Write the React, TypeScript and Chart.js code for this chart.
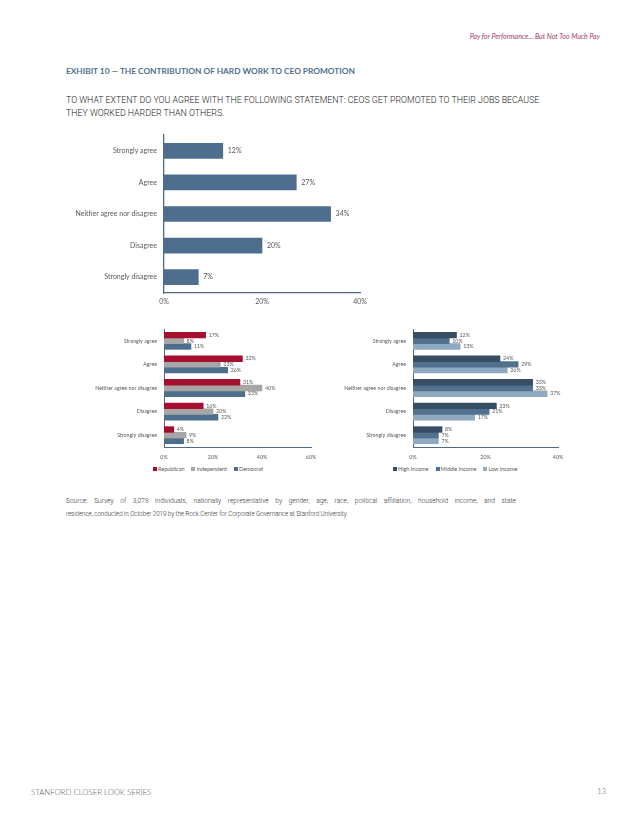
import React, { useEffect, useRef } from "react";
import { Chart, registerables } from "chart.js";

Chart.register(...registerables);

const categories = [
  "Strongly agree",
  "Agree",
  "Neither agree nor disagree",
  "Disagree",
  "Strongly disagree",
];
const overallValues = [12, 27, 34, 20, 7];

const partyLabels = ["Republican", "Independent", "Democrat"];
const republicanValues = [17, 32, 31, 16, 4];
const independentValues = [8, 23, 40, 20, 9];
const democratValues = [11, 26, 33, 22, 8];

const incomeLabels = ["High Income", "Middle Income", "Low Income"];
const highIncomeValues = [12, 24, 33, 23, 8];
const middleIncomeValues = [10, 29, 33, 21, 7];
const lowIncomeValues = [13, 26, 37, 17, 7];

const overallTickMax = 40;
const partyTickMax = 60;
const incomeTickMax = 40;
const tickStep = 20;

const FONT = "Lato, 'Open Sans', sans-serif";
const BODY_FONT = "Roboto, 'Noto Sans', sans-serif";
const AXIS_COLOR = "#4E6A86";
const TEXT_COLOR = "#595959";
const MAIN_BLUE = "#4E6E8E";
const partyColors = ["#A50E2D", "#A6A6A6", "#4E6E8E"];
const incomeColors = ["#374D64", "#52718F", "#8FA9C1"];

const valueLabelPlugin = {
  id: "valueLabels",
  afterDatasetsDraw(chart: any, _args: any, opts: any) {
    const ctx = chart.ctx;
    ctx.save();
    ctx.font = `${opts.size}px ${FONT}`;
    ctx.fillStyle = opts.color;
    ctx.textBaseline = "middle";
    ctx.textAlign = "left";
    chart.data.datasets.forEach((ds: any, i: number) => {
      const meta = chart.getDatasetMeta(i);
      meta.data.forEach((el: any, j: number) => {
        ctx.fillText(ds.data[j] + "%", el.x + opts.offset, el.y);
      });
    });
    ctx.restore();
  },
};

type BarProps = {
  left: number;
  top: number;
  width: number;
  height: number;
  yWidth: number;
  xHeight: number;
  padTop: number;
  padRight: number;
  max: number;
  datasets: { label: string; data: number[]; color: string }[];
  barThickness: number;
  tickSize: number;
  catSize: number;
  labelSize: number;
  labelOffset: number;
  xPad: number;
  yPad: number;
  borderWidth: number;
};

function HBar(p: BarProps) {
  const ref = useRef<HTMLCanvasElement | null>(null);
  useEffect(() => {
    if (!ref.current) return;
    const chart = new Chart(ref.current, {
      type: "bar",
      data: {
        labels: categories,
        datasets: p.datasets.map((d) => ({
          label: d.label,
          data: d.data,
          backgroundColor: d.color,
          borderWidth: 0,
          barThickness: p.barThickness,
        })),
      },
      options: {
        indexAxis: "y",
        animation: false,
        responsive: true,
        maintainAspectRatio: false,
        layout: { padding: { top: p.padTop, right: p.padRight, left: 0, bottom: 0 } },
        plugins: {
          legend: { display: false },
          tooltip: { enabled: false },
          valueLabels: { size: p.labelSize, color: TEXT_COLOR, offset: p.labelOffset },
        } as any,
        scales: {
          x: {
            min: 0,
            max: p.max,
            grid: { display: false, drawTicks: false },
            border: { display: true, color: AXIS_COLOR, width: p.borderWidth },
            ticks: {
              stepSize: tickStep,
              padding: p.xPad,
              color: TEXT_COLOR,
              font: { family: FONT, size: p.tickSize },
              callback: (v: any) => v + "%",
            },
            afterFit: (scale: any) => {
              scale.height = p.xHeight;
              scale.paddingLeft = 0;
              scale.paddingRight = 0;
            },
          },
          y: {
            grid: { display: false, drawTicks: false },
            border: { display: true, color: AXIS_COLOR, width: p.borderWidth },
            ticks: {
              padding: p.yPad,
              color: TEXT_COLOR,
              font: { family: FONT, size: p.catSize },
            },
            afterFit: (scale: any) => {
              scale.width = p.yWidth;
              scale.paddingTop = 0;
              scale.paddingBottom = 0;
            },
          },
        },
      },
      plugins: [valueLabelPlugin],
    });
    return () => chart.destroy();
  }, []);
  return (
    <div
      style={{
        position: "absolute",
        left: p.left,
        top: p.top,
        width: p.width,
        height: p.height,
      }}
    >
      <canvas ref={ref} />
    </div>
  );
}

function Legend({ left, top, labels, colors }: { left: number; top: number; labels: string[]; colors: string[] }) {
  return (
    <div
      style={{
        position: "absolute",
        left,
        top,
        display: "flex",
        alignItems: "center",
        fontFamily: FONT,
        fontSize: 5.5,
        color: TEXT_COLOR,
        lineHeight: "8px",
        whiteSpace: "nowrap",
      }}
    >
      {labels.map((l, i) => (
        <div key={l} style={{ display: "flex", alignItems: "center", marginRight: 7 }}>
          <span style={{ display: "inline-block", width: 4, height: 4, background: colors[i], marginRight: 1 }} />
          <span>{l}</span>
        </div>
      ))}
    </div>
  );
}

export default function App() {
  const abs = (x: number, y: number, extra: React.CSSProperties = {}): React.CSSProperties => ({
    position: "absolute",
    left: x,
    top: y,
    whiteSpace: "nowrap",
    fontFamily: FONT,
    ...extra,
  });
  return (
    <div style={{ position: "absolute", left: 0, top: 0, width: 638, height: 826, background: "#fff", overflow: "hidden" }}>
      <div
        style={{
          position: "absolute",
          right: 38,
          top: 31,
          fontFamily: FONT,
          fontStyle: "italic",
          fontSize: 7,
          lineHeight: "10px",
          color: "#A0405F",
          whiteSpace: "nowrap",
        }}
      >
        Pay for Performance... But Not Too Much Pay
      </div>
      <div style={abs(66, 66, { fontSize: 8.3, fontWeight: 700, color: "#4E6E8E", lineHeight: "10px" })}>
        EXHIBIT 10 — THE CONTRIBUTION OF HARD WORK TO CEO PROMOTION
      </div>
      <div style={abs(66, 94, { fontFamily: BODY_FONT, fontSize: 8.8, fontWeight: 300, color: "#222", lineHeight: "13px" })}>
        TO WHAT EXTENT DO YOU AGREE WITH THE FOLLOWING STATEMENT: CEOS GET PROMOTED TO THEIR JOBS BECAUSE
        <br />
        THEY WORKED HARDER THAN OTHERS.
      </div>

      <HBar
        left={40}
        top={130}
        width={345}
        height={185}
        yWidth={124}
        xHeight={22}
        padTop={5}
        padRight={25}
        max={overallTickMax}
        datasets={[{ label: "All", data: overallValues, color: MAIN_BLUE }]}
        barThickness={15}
        tickSize={7}
        catSize={7}
        labelSize={7}
        labelOffset={5}
        xPad={5}
        yPad={7}
        borderWidth={1.3}
      />

      <HBar
        left={90}
        top={325}
        width={240}
        height={140}
        yWidth={74}
        xHeight={18}
        padTop={4}
        padRight={19}
        max={partyTickMax}
        datasets={[
          { label: partyLabels[0], data: republicanValues, color: partyColors[0] },
          { label: partyLabels[1], data: independentValues, color: partyColors[1] },
          { label: partyLabels[2], data: democratValues, color: partyColors[2] },
        ]}
        barThickness={5.7}
        tickSize={5.3}
        catSize={5.3}
        labelSize={5.3}
        labelOffset={3}
        xPad={7}
        yPad={7}
        borderWidth={1}
      />
      <Legend left={153} top={465} labels={partyLabels} colors={partyColors} />

      <HBar
        left={340}
        top={325}
        width={240}
        height={140}
        yWidth={73}
        xHeight={18}
        padTop={4}
        padRight={22}
        max={incomeTickMax}
        datasets={[
          { label: incomeLabels[0], data: highIncomeValues, color: incomeColors[0] },
          { label: incomeLabels[1], data: middleIncomeValues, color: incomeColors[1] },
          { label: incomeLabels[2], data: lowIncomeValues, color: incomeColors[2] },
        ]}
        barThickness={5.7}
        tickSize={5.3}
        catSize={5.3}
        labelSize={5.3}
        labelOffset={3}
        xPad={7}
        yPad={7}
        borderWidth={1}
      />
      <Legend left={393} top={465} labels={incomeLabels} colors={incomeColors} />

      <div
        style={{
          position: "absolute",
          left: 66,
          top: 496,
          width: 450,
          fontFamily: BODY_FONT,
          fontSize: 6.6,
          fontWeight: 300,
          lineHeight: "10px",
          color: "#333",
          textAlign: "justify",
          textAlignLast: "justify",
          whiteSpace: "nowrap",
        }}
      >
        Source: Survey of 3,078 individuals, nationally representative by gender, age, race, political affiliation, household income, and state
      </div>
      <div style={abs(66, 509, { fontFamily: BODY_FONT, fontSize: 6.3, fontWeight: 300, lineHeight: "10px", color: "#333", letterSpacing: "-0.1px" })}>
        residence, conducted in October 2019 by the Rock Center for Corporate Governance at Stanford University.
      </div>

      <div style={abs(31, 787, { fontSize: 7.8, fontWeight: 300, lineHeight: "10px", color: "#555" })}>STANFORD CLOSER LOOK SERIES</div>
      <div style={{ position: "absolute", right: 32, top: 787, fontFamily: FONT, fontSize: 7.5, fontWeight: 300, lineHeight: "10px", color: "#555" }}>13</div>
    </div>
  );
}
